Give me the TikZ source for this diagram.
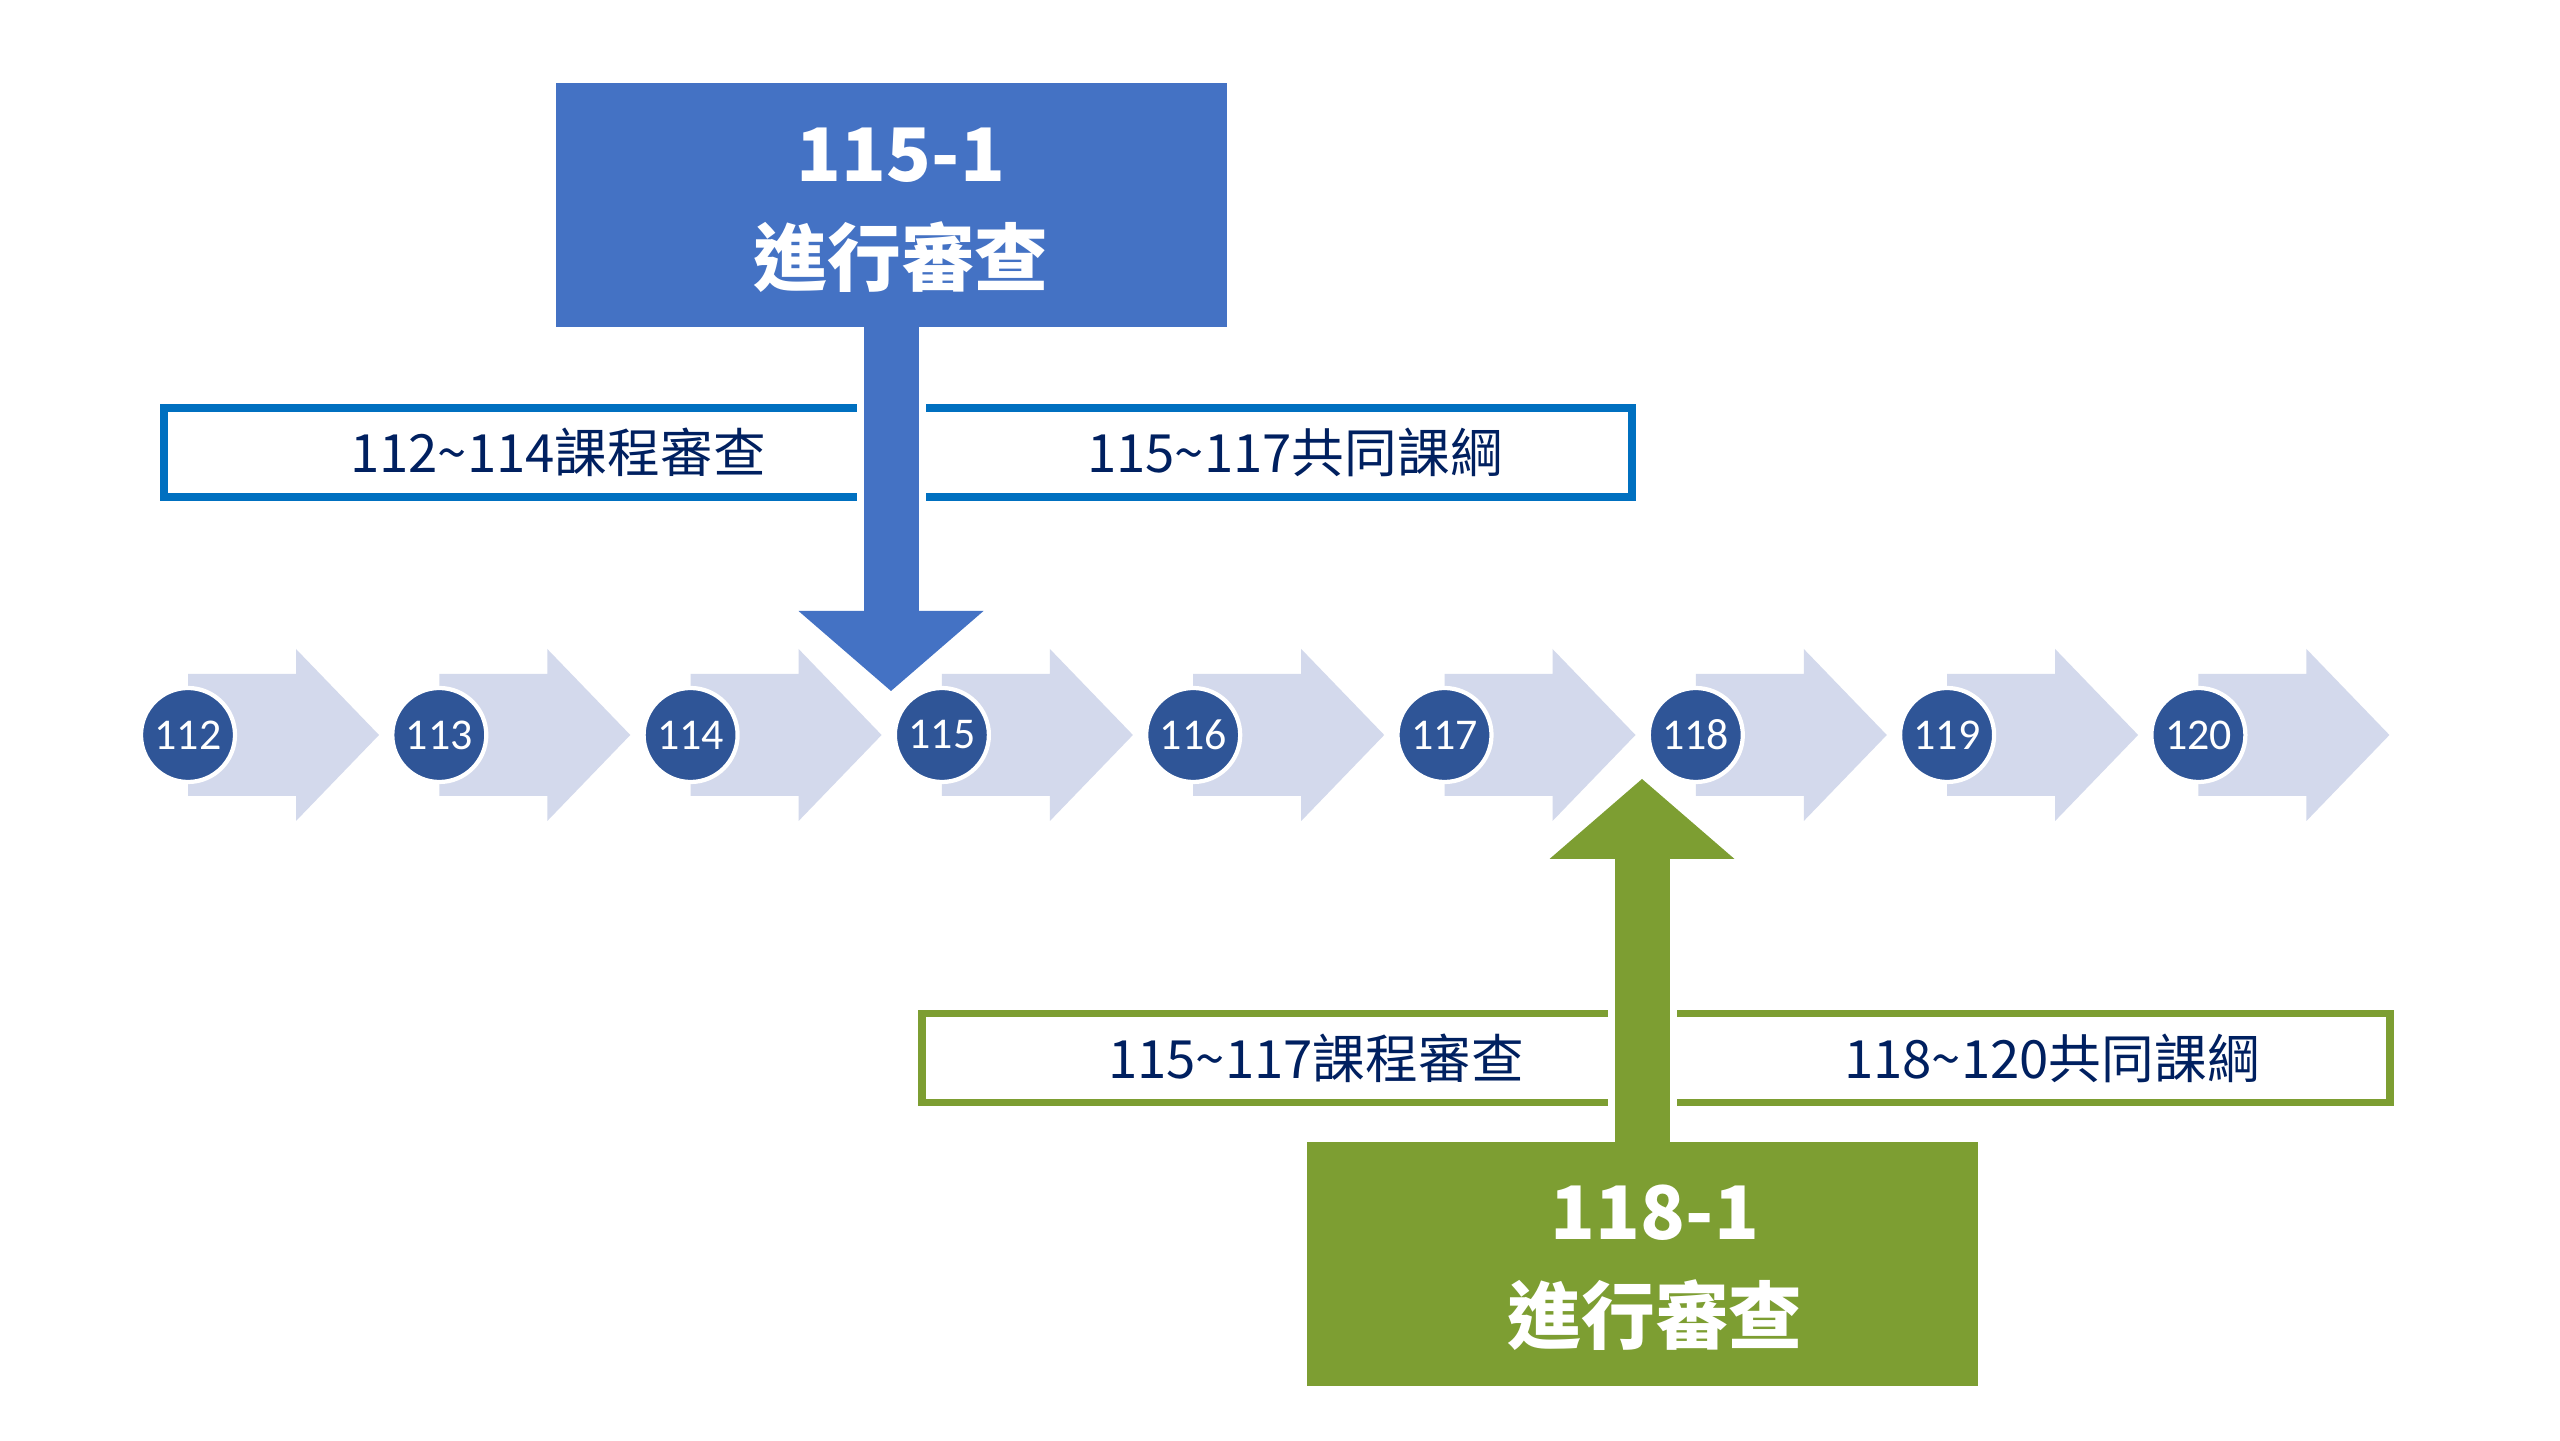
\documentclass[tikz,border=0pt]{standalone}
\usepackage{fontspec}
\setmainfont{Noto Sans CJK TC}
\newfontfamily\yearfont{Carlito}
\usepackage{tikz}
\usetikzlibrary{calc, backgrounds, positioning}

\definecolor{reviewblue}{HTML}{4472C4}
\definecolor{spanblue}{HTML}{0070C0}
\definecolor{reviewgreen}{HTML}{7D9E32}
\definecolor{ballblue}{HTML}{2F5597}
\definecolor{steplight}{HTML}{D3D9EC}
\definecolor{labelnavy}{HTML}{002060}

\begin{document}
\begin{tikzpicture}
[
    every node/.style = {inner sep = 0pt, outer sep = 0pt},
    node distance = 25.13mm
  ]

  \tikzset{YearStyle/.style = {shape          = circle,
                               fill           = ballblue,
                               draw           = white,
                               line width     = 1.2pt,
                               minimum size   = 9.4mm,
                               text           = white,
                               font           = \yearfont\fontsize{12.5}{15}\selectfont},
           ReviewStyle/.style = {shape          = rectangle,
                                 minimum width  = 67.1mm,
                                 minimum height = 24.4mm},
           TitleText/.style = {text           = white,
                               align          = center,
                               font           = \bfseries\fontsize{21}{29.5}\selectfont},
           SpanStyle/.style = {shape          = rectangle,
                               line width     = 2.2pt,
                               minimum width  = 146.8mm,
                               minimum height = 8.9mm},
           SpanText/.style = {text = labelnavy, font = \fontsize{15}{18}\selectfont},
           ShaftStyle/.style = {line width = 5.5mm,
                                preaction = {draw = white, line width = 6.9mm}},
           StepArrow/.pic = {\fill[steplight] (0,0.61) -- (1.08,0.61) -- (1.08,0.86) -- (1.91,0)
                              -- (1.08,-0.86) -- (1.08,-0.61) -- (0,-0.61) -- cycle;}}

  \useasboundingbox (0,0) rectangle (25.6,14.4);

  % years
  \node[YearStyle] (y112) at (1.88,7.05) {112};
  \node[YearStyle, right of= y112] (y113) {113};
  \node[YearStyle, right of= y113] (y114) {114};
  \node[YearStyle, right of= y114] (y115) {115};
  \node[YearStyle, right of= y115] (y116) {116};
  \node[YearStyle, right of= y116] (y117) {117};
  \node[YearStyle, right of= y117] (y118) {118};
  \node[YearStyle, right of= y118] (y119) {119};
  \node[YearStyle, right of= y119] (y120) {120};

  \begin{scope}[on background layer]
  \fill[white] (0,0) rectangle (25.6,14.4);
  \pic at (y112.center) {StepArrow};
  \pic at (y113.center) {StepArrow};
  \pic at (y114.center) {StepArrow};
  \pic at (y115.center) {StepArrow};
  \pic at (y116.center) {StepArrow};
  \pic at (y117.center) {StepArrow};
  \pic at (y118.center) {StepArrow};
  \pic at (y119.center) {StepArrow};
  \pic at (y120.center) {StepArrow};
  \end{scope}

  % spans
  \node[SpanStyle, draw = spanblue] (span1) at (8.98,9.875) {};
  \node[SpanStyle, draw = reviewgreen] (span2) at (16.56,3.82) {};
  \node[SpanText] (old1) at ($(span1)+(-3.4,0)$) {112\textasciitilde114課程審查};
  \node[SpanText] (new1) at ($(span1)+(3.97,0)$) {115\textasciitilde117共同課綱};
  \node[SpanText] (old2) at ($(span2)+(-3.4,0)$) {115\textasciitilde117課程審查};
  \node[SpanText] (new2) at ($(span2)+(3.96,0)$) {118\textasciitilde120共同課綱};

  % reviews
  \node[ReviewStyle, fill = reviewblue] (review1) at (8.91,12.35) {};
  \node[ReviewStyle, fill = reviewgreen] (review2) at (16.42,1.76) {};
  \node[TitleText] (title1) at ($(review1)+(0.1,-0.05)$) {115-1\\進行審查};
  \node[TitleText] (title2) at ($(review2)+(0.13,-0.04)$) {118-1\\進行審查};

  \coordinate (tip1) at (8.91,7.49);
  \coordinate (tip2) at (16.42,6.61);

  \draw[ShaftStyle, draw = reviewblue] (review1.south) -- ($(tip1)+(0,0.79)$);
  \fill[reviewblue] ($(tip1)+(-0.925,0.8)$) -- (tip1) -- ($(tip1)+(0.925,0.8)$) -- cycle;
  \draw[ShaftStyle, draw = reviewgreen] (review2.north) -- ($(tip2)+(0,-0.79)$);
  \fill[reviewgreen] ($(tip2)+(-0.925,-0.8)$) -- (tip2) -- ($(tip2)+(0.925,-0.8)$) -- cycle;

\end{tikzpicture}
\end{document}
